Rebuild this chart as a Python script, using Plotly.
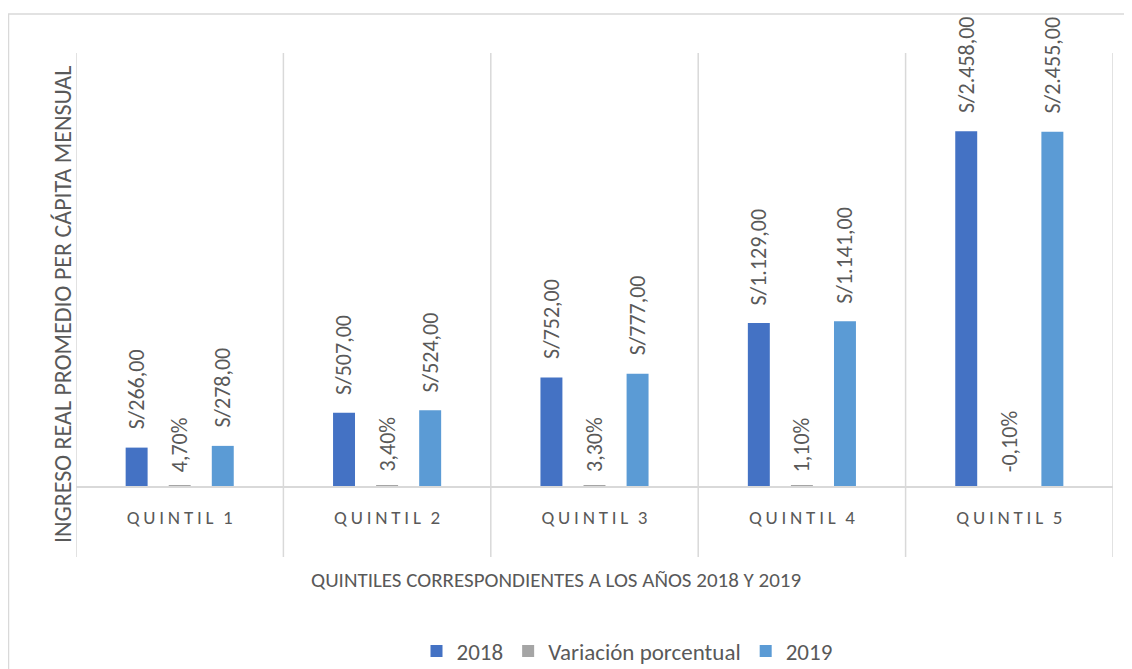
import plotly.graph_objects as go

categories = ["QUINTIL 1", "QUINTIL 2", "QUINTIL 3", "QUINTIL 4", "QUINTIL 5"]
ingreso_2018 = [266, 507, 752, 1129, 2458]
variacion_pct = [4.7, 3.4, 3.3, 1.1, -0.1]
ingreso_2019 = [278, 524, 777, 1141, 2455]
series_names = ["2018", "Variación porcentual", "2019"]
x_title = "QUINTILES CORRESPONDIENTES A LOS AÑOS 2018 Y 2019"
y_title = "INGRESO REAL PROMEDIO PER CÁPITA MENSUAL"

FONT = "Carlito, Lato, sans-serif"
TXT = "#595959"
GRID = "#D9D9D9"
colors = ["#4472C4", "#A5A5A5", "#5B9BD5"]

OFF = 8  # page body margin
W, H = 1132 - OFF, 669 - OFF
# plot area in page pixels: x 76..1113, y 53..486
L = 76 - OFF
T = 53 - OFF
R = W - (1113 - OFF)
B = H - (486 - OFF)
PH = H - T - B
PW = W - L - R


def money(v):
    s = f"{v:,.2f}"
    s = s.replace(",", "X").replace(".", ",").replace("X", ".")
    return "S/" + s


def pct(v):
    return f"{v:.2f}".replace(".", ",") + "%"


def spaced(label):
    return "\u2002".join("\u2009".join(word) for word in label.split(" "))


def py(pix):  # page pixel y -> paper
    return (486 - pix) / PH


def px(pix):  # page pixel x -> paper
    return (pix - 76) / PW


fig = go.Figure()
for name, vals, col in zip(series_names, [ingreso_2018, variacion_pct, ingreso_2019], colors):
    fig.add_trace(go.Bar(x=categories, y=vals, name=name, marker_color=col,
                         marker_line_width=0, hoverinfo="skip"))

shifts = [-43, 0, 43]
for vals, fmt, xs, is_pct in [(ingreso_2018, money, shifts[0], False),
                              (variacion_pct, pct, shifts[1], True),
                              (ingreso_2019, money, shifts[2], False)]:
    for c, v in zip(categories, vals):
        fig.add_annotation(x=c, y=(0 if is_pct else v), xref="x", yref="y",
                           text=fmt(v), showarrow=False, textangle=-90,
                           xanchor="center", yanchor="bottom",
                           xshift=xs, yshift=(12 if is_pct else 16),
                           font=dict(family=FONT, size=22, color=TXT))

for i in range(len(categories) + 1):
    fig.add_shape(type="line", xref="x", yref="paper", x0=i - 0.5, x1=i - 0.5,
                  y0=py(557), y1=1.0, line=dict(color=GRID, width=1.5), layer="below")

fig.add_shape(type="rect", xref="paper", yref="paper", x0=px(8.5), x1=px(1200),
              y0=py(720), y1=py(14), line=dict(color=GRID, width=1.5), layer="below")

fig.add_annotation(text=x_title, xref="paper", yref="paper",
                   x=px(556), y=py(580), showarrow=False,
                   xanchor="center", yanchor="middle",
                   font=dict(family=FONT, size=21, color=TXT))
fig.add_annotation(text=y_title, xref="paper", yref="paper",
                   x=px(62), y=py(305), showarrow=False,
                   textangle=-90, xanchor="center", yanchor="middle",
                   font=dict(family=FONT, size=24, color=TXT))

fig.update_layout(
    width=W, height=H,
    margin=dict(l=L, r=R, t=T, b=B, autoexpand=False),
    paper_bgcolor="white", plot_bgcolor="white",
    barmode="group", bargap=0.377, bargroupgap=0.49,
    showlegend=True,
    legend=dict(orientation="h", xref="container", yref="container",
                x=(627 - OFF) / W, xanchor="center",
                y=1 - (651 - OFF) / H, yanchor="middle",
                font=dict(family=FONT, size=23, color=TXT),
                itemsizing="constant", traceorder="normal"),
    font=dict(family=FONT, color=TXT),
)
fig.update_xaxes(type="category", showgrid=False, showline=True, linecolor=GRID,
                 linewidth=1.5, ticks="", tickfont=dict(family=FONT, size=19, color=TXT),
                 tickvals=categories, automargin=False,
                 ticktext=[spaced(c) for c in categories],
                 ticklabelstandoff=13, range=[-0.5, 4.5])
fig.update_yaxes(range=[0, 3000], showgrid=False, showticklabels=False, zeroline=False,
                 showline=False, ticks="", automargin=False)

fig.write_html("out.html")
